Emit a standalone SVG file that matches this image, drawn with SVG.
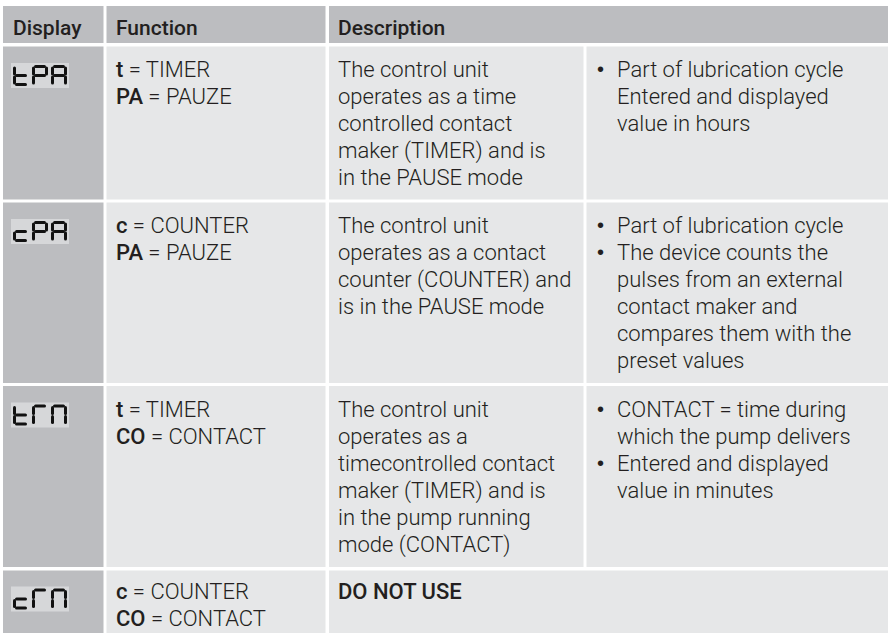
<svg xmlns="http://www.w3.org/2000/svg" width="888" height="633" viewBox="0 0 888 633">
<style>
.hd{fill:#bcbdc0}
.cl{fill:#e6e7e8}
.t{font-family:Roboto,"Liberation Sans",Arial,sans-serif;font-size:22px;font-weight:300;fill:#231f20}
.h{font-family:Roboto,"Liberation Sans",Arial,sans-serif;font-size:21px;font-weight:500;fill:#231f20}
.b{font-weight:500}
.bu{font-family:"Liberation Sans",Arial,sans-serif;font-size:20px;fill:#231f20}
.lcd{fill:#d6d7d9}
.seg{fill:#111}
</style>
<defs>
<rect id="sa" class="seg" x="2" y="0" width="12" height="3" rx="1.5"/>
<rect id="sb" class="seg" x="13" y="1.5" width="3" height="9" rx="1.5"/>
<rect id="sc" class="seg" x="13" y="10.5" width="3" height="9" rx="1.5"/>
<rect id="sd" class="seg" x="2" y="18" width="12" height="3" rx="1.5"/>
<rect id="se" class="seg" x="0" y="10.5" width="3" height="9" rx="1.5"/>
<rect id="sf" class="seg" x="0" y="1.5" width="3" height="9" rx="1.5"/>
<rect id="sg" class="seg" x="2" y="9" width="12" height="3" rx="1.5"/>
<g id="dt"><use href="#sf"/><use href="#se"/><use href="#sg"/><use href="#sd"/></g>
<g id="dc"><use href="#se"/><use href="#sg"/><use href="#sd"/></g>
<g id="dP"><use href="#sa"/><use href="#sb"/><use href="#sf"/><use href="#sg"/><use href="#se"/></g>
<g id="dA"><use href="#sa"/><use href="#sb"/><use href="#sc"/><use href="#se"/><use href="#sf"/><use href="#sg"/></g>
<g id="dC"><use href="#sa"/><use href="#sf"/><use href="#se"/></g>
<g id="dO"><use href="#sa"/><use href="#sb"/><use href="#sc"/><use href="#se"/><use href="#sf"/></g>
</defs>
<rect width="888" height="633" fill="#fff"/>

<g id="header">
<rect class="hd" x="3" y="6" width="100.5" height="37"/>
<rect class="hd" x="106.5" y="6" width="219" height="37"/>
<rect class="hd" x="329" y="6" width="559" height="37"/>
<text class="h" x="13" y="35">Display</text>
<text class="h" x="116" y="35">Function</text>
<text class="h" x="338" y="35">Description</text>
</g>

<g id="row1">
<rect class="hd" x="3" y="46.5" width="100.5" height="153"/>
<rect class="cl" x="106.5" y="46.5" width="219" height="153"/>
<rect class="cl" x="329" y="46.5" width="254.5" height="153"/>
<rect class="cl" x="586.5" y="46.5" width="301.5" height="153"/>
<g id="lcd1" transform="translate(11,63)">
<rect class="lcd" x="0" y="0" width="58" height="25"/>
<use href="#dt" x="2" y="2"/><use href="#dP" x="21" y="2"/><use href="#dA" x="40" y="2"/>
</g>
<text class="t" x="116" y="77"><tspan class="b">t</tspan> = TIMER</text>
<text class="t" x="116" y="104"><tspan class="b">PA</tspan> = PAUZE</text>
<text class="t" x="338" y="77">The control unit</text>
<text class="t" x="338" y="104">operates as a time</text>
<text class="t" x="338" y="131">controlled contact</text>
<text class="t" x="338" y="158">maker (TIMER) and is</text>
<text class="t" x="338" y="185">in the PAUSE mode</text>
<text class="bu" x="597" y="76">•</text>
<text class="t" x="617" y="77">Part of lubrication cycle</text>
<text class="t" x="617" y="104">Entered and displayed</text>
<text class="t" x="617" y="131">value in hours</text>
</g>

<g id="row2">
<rect class="hd" x="3" y="202.5" width="100.5" height="180.5"/>
<rect class="cl" x="106.5" y="202.5" width="219" height="180.5"/>
<rect class="cl" x="329" y="202.5" width="254.5" height="180.5"/>
<rect class="cl" x="586.5" y="202.5" width="301.5" height="180.5"/>
<g id="lcd2" transform="translate(11,219)">
<rect class="lcd" x="0" y="0" width="58" height="25"/>
<use href="#dc" x="2" y="2"/><use href="#dP" x="21" y="2"/><use href="#dA" x="40" y="2"/>
</g>
<text class="t" x="116" y="233"><tspan class="b">c</tspan> = COUNTER</text>
<text class="t" x="116" y="260"><tspan class="b">PA</tspan> = PAUZE</text>
<text class="t" x="338" y="233">The control unit</text>
<text class="t" x="338" y="260">operates as a contact</text>
<text class="t" x="338" y="287">counter (COUNTER) and</text>
<text class="t" x="338" y="314">is in the PAUSE mode</text>
<text class="bu" x="597" y="232">•</text>
<text class="t" x="617" y="233">Part of lubrication cycle</text>
<text class="bu" x="597" y="259">•</text>
<text class="t" x="617" y="260">The device counts the</text>
<text class="t" x="617" y="287">pulses from an external</text>
<text class="t" x="617" y="314">contact maker and</text>
<text class="t" x="617" y="341">compares them with the</text>
<text class="t" x="617" y="368">preset values</text>
</g>

<g id="row3">
<rect class="hd" x="3" y="386" width="100.5" height="181"/>
<rect class="cl" x="106.5" y="386" width="219" height="181"/>
<rect class="cl" x="329" y="386" width="254.5" height="181"/>
<rect class="cl" x="586.5" y="386" width="301.5" height="181"/>
<g id="lcd3" transform="translate(11,402.5)">
<rect class="lcd" x="0" y="0" width="58" height="25"/>
<use href="#dt" x="2" y="2"/><use href="#dC" x="21" y="2"/><use href="#dO" x="40" y="2"/>
</g>
<text class="t" x="116" y="416.5"><tspan class="b">t</tspan> = TIMER</text>
<text class="t" x="116" y="443.5"><tspan class="b">CO</tspan> = CONTACT</text>
<text class="t" x="338" y="416.5">The control unit</text>
<text class="t" x="338" y="443.5">operates as a</text>
<text class="t" x="338" y="470.5">timecontrolled contact</text>
<text class="t" x="338" y="497.5">maker (TIMER) and is</text>
<text class="t" x="338" y="524.5">in the pump running</text>
<text class="t" x="338" y="551.5">mode (CONTACT)</text>
<text class="bu" x="597" y="415.5">•</text>
<text class="t" x="617" y="416.5">CONTACT = time during</text>
<text class="t" x="617" y="443.5">which the pump delivers</text>
<text class="bu" x="597" y="469.5">•</text>
<text class="t" x="617" y="470.5">Entered and displayed</text>
<text class="t" x="617" y="497.5">value in minutes</text>
</g>

<g id="row4">
<rect class="hd" x="3" y="570.5" width="100.5" height="62.5"/>
<rect class="cl" x="106.5" y="570.5" width="219" height="62.5"/>
<rect class="cl" x="329" y="570.5" width="559" height="62.5"/>
<g id="lcd4" transform="translate(11,586.5)">
<rect class="lcd" x="0" y="0" width="58" height="25"/>
<use href="#dc" x="2" y="2"/><use href="#dC" x="21" y="2"/><use href="#dO" x="40" y="2"/>
</g>
<text class="t" x="116" y="599"><tspan class="b">c</tspan> = COUNTER</text>
<text class="t" x="116" y="626"><tspan class="b">CO</tspan> = CONTACT</text>
<text class="t b" x="338" y="599">DO NOT USE</text>
</g>
</svg>
